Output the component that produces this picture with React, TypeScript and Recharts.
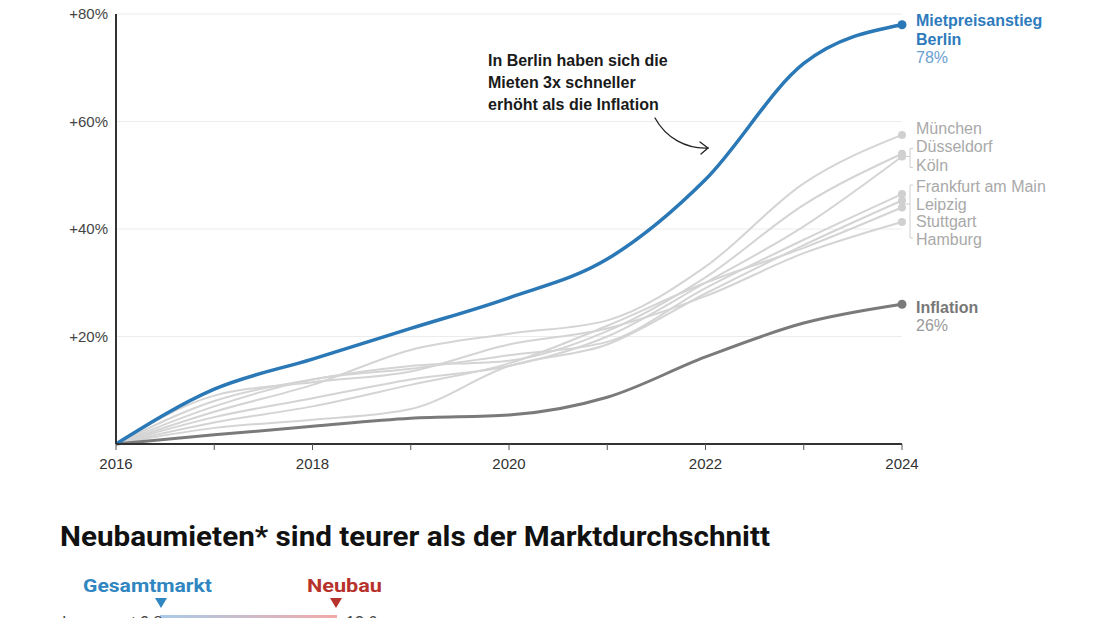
import React from 'react';
import { LineChart, Line, XAxis, YAxis, CartesianGrid } from 'recharts';

// Rent increase since 2016 (in %), by city, vs. inflation
const years = [2016, 2017, 2018, 2019, 2020, 2021, 2022, 2023, 2024];
const berlin = [0, 10.2, 15.8, 21.5, 27.2, 34.4, 49.2, 70.8, 78];
const inflation = [0, 1.7, 3.3, 4.8, 5.4, 8.7, 16.2, 22.5, 26];
const muenchen = [0, 6, 11, 17.5, 20.5, 23, 33, 48.5, 57.5];
const duesseldorf = [0, 8, 12, 14.5, 15.5, 21, 31, 44.5, 54];
const koeln = [0, 5, 8.5, 12, 14.5, 20, 30, 40.5, 53.5];
const frankfurt = [0, 7, 12, 14, 16.5, 19, 29, 38, 46.5];
const leipzig = [0, 3, 4.5, 6.5, 14.5, 18.5, 28, 37, 45.3];
const stuttgart = [0, 4, 7, 11, 15, 22, 30, 36.5, 44];
const hamburg = [0, 9, 11.5, 13.5, 18.5, 21.5, 27.5, 35.5, 41.3];
const yTicks = [20, 40, 60, 80];

const cityNames = ['München', 'Düsseldorf', 'Köln', 'Frankfurt am Main', 'Leipzig', 'Stuttgart', 'Hamburg'];
const cityValues = [muenchen, duesseldorf, koeln, frankfurt, leipzig, stuttgart, hamburg];

const data = years.map((year, i) => {
  const row: Record<string, number> = { year, berlin: berlin[i], inflation: inflation[i] };
  cityNames.forEach((name, c) => {
    row[name] = cityValues[c][i];
  });
  return row;
});

const BLUE = '#2a78b6';
const GREY_LINE = '#d4d4d4';
const GREY_TEXT = '#a9a9a9';
const INFL = '#7a7a7a';
const FONT = '"Liberation Sans", Arial, Helvetica, sans-serif';

// label vertical offsets (px) relative to each end point, so neighbouring names don't collide
const cityLabelDy: Record<string, number> = {
  'München': -7,
  'Düsseldorf': -7,
  'Köln': 9,
  'Frankfurt am Main': -8,
  'Leipzig': 3.5,
  'Stuttgart': 13.5,
  'Hamburg': 17,
};

type LabelLine = { text: string; dy: number; fill: string; weight?: number };

const endDot = (color: string, r: number, lines: LabelLine[], extra?: (cx: number, cy: number) => React.ReactNode) =>
  (props: any) => {
    const { cx, cy, index } = props;
    if (index !== years.length - 1 || cx == null || cy == null) return <g key={`d-${index}`} />;
    return (
      <g key={`end-${index}`}>
        {extra ? extra(cx, cy) : null}
        <circle cx={cx} cy={cy} r={r} fill={color} stroke="none" />
        {lines.map((l, k) => (
          <text
            key={k}
            x={cx + 14}
            y={cy + l.dy}
            dy="0.35em"
            fill={l.fill}
            fontSize={16}
            fontWeight={l.weight ?? 400}
            fontFamily={FONT}
          >
            {l.text}
          </text>
        ))}
      </g>
    );
  };

const bracketColor = '#cfcfcf';

const koelnBracket = (cx: number, cy: number) => (
  <g stroke={bracketColor} strokeWidth={1} fill="none">
    <path d={`M${cx + 11},${cy - 8} L${cx + 8},${cy - 8} L${cx + 8},${cy + 11} L${cx + 11},${cy + 11}`} />
    <path d={`M${cx},${cy} L${cx + 8},${cy}`} />
  </g>
);

const hamburgBracket = (cx: number, cy: number) => (
  <g stroke={bracketColor} strokeWidth={1} fill="none">
    <path d={`M${cx + 11},${cy - 37} L${cx + 8},${cy - 37} L${cx + 8},${cy + 16} L${cx + 11},${cy + 16}`} />
    <path d={`M${cx},${cy - 18} L${cx + 8},${cy - 18}`} />
  </g>
);

export default function App() {
  return (
    <div
      style={{
        position: 'absolute',
        left: 0,
        top: 0,
        width: 1100,
        height: 618,
        overflow: 'hidden',
        background: '#ffffff',
        fontFamily: FONT,
      }}
    >
      <LineChart
        width={1100}
        height={480}
        data={data}
        margin={{ top: 14, right: 198, bottom: 6, left: 66 }}
        style={{ fontFamily: FONT }}
      >
        <CartesianGrid vertical={false} stroke="#ececec" strokeWidth={1} />
        <XAxis
          dataKey="year"
          type="number"
          domain={[2016, 2024]}
          ticks={years}
          interval={0}
          height={30}
          tickFormatter={(v: number) => (v % 2 === 0 ? String(v) : '')}
          axisLine={{ stroke: '#333', strokeWidth: 2 }}
          tickLine={{ stroke: '#555', strokeWidth: 1 }}
          tickSize={6}
          tickMargin={8}
          tick={{ fill: '#333', fontSize: 15, fontFamily: FONT }}
        />
        <YAxis
          type="number"
          domain={[0, 80]}
          ticks={yTicks}
          width={50}
          tickFormatter={(v: number) => `+${v}%`}
          axisLine={{ stroke: '#333', strokeWidth: 2 }}
          tickLine={false}
          tick={{ fill: '#444', fontSize: 15, fontFamily: FONT }}
        />
        {cityNames.map((name) => (
          <Line
            key={name}
            dataKey={name}
            type="monotone"
            stroke={GREY_LINE}
            strokeWidth={2}
            isAnimationActive={false}
            dot={endDot('#d0d0d0', 4, [{ text: name, dy: cityLabelDy[name], fill: GREY_TEXT }],
              name === 'Köln' ? koelnBracket : name === 'Hamburg' ? hamburgBracket : undefined)}
            activeDot={false}
          />
        ))}
        <Line
          dataKey="inflation"
          type="monotone"
          stroke={INFL}
          strokeWidth={3}
          isAnimationActive={false}
          activeDot={false}
          dot={endDot(INFL, 4.5, [
            { text: 'Inflation', dy: 3, fill: '#777', weight: 700 },
            { text: `${inflation[inflation.length - 1]}%`, dy: 21, fill: '#9a9a9a' },
          ])}
        />
        <Line
          dataKey="berlin"
          type="monotone"
          stroke={BLUE}
          strokeWidth={3.5}
          isAnimationActive={false}
          activeDot={false}
          dot={endDot(BLUE, 4.5, [
            { text: 'Mietpreisanstieg', dy: -4, fill: '#2e7bbd', weight: 700 },
            { text: 'Berlin', dy: 15, fill: '#2e7bbd', weight: 700 },
            { text: `${berlin[berlin.length - 1]}%`, dy: 33, fill: '#6aa0cf' },
          ])}
        />
      </LineChart>

      {/* callout */}
      <svg width={1100} height={480} style={{ position: 'absolute', left: 0, top: 0, pointerEvents: 'none' }}>
        <g fontFamily={FONT} fontSize={16} fontWeight={700} fill="#1a1a1a">
          <text x={488} y={66}>In Berlin haben sich die</text>
          <text x={488} y={88}>Mieten 3x schneller</text>
          <text x={488} y={110}>erhöht als die Inflation</text>
        </g>
        <g stroke="#222" strokeWidth={1.3} fill="none" strokeLinecap="round">
          <path d="M655,118 C666,138 686,149 708,148" />
          <path d="M700,142 L708,148 L701,154" />
        </g>
      </svg>

      {/* next section header */}
      <svg width={1100} height={618} style={{ position: 'absolute', left: 0, top: 0, pointerEvents: 'none' }}>
        <defs>
          <linearGradient id="gapGrad" x1="0" x2="1" y1="0" y2="0">
            <stop offset="0%" stopColor="#a9cbe9" />
            <stop offset="100%" stopColor="#f2aaa8" />
          </linearGradient>
        </defs>
        <text
          x={60}
          y={546}
          fontFamily='"Roboto", "Noto Sans", sans-serif'
          fontSize={28}
          fontWeight={700}
          fill="#111"
          textLength={710}
          lengthAdjust="spacingAndGlyphs"
        >
          Neubaumieten* sind teurer als der Marktdurchschnitt
        </text>
        <text
          x={83}
          y={592}
          fontFamily='"Roboto", "Noto Sans", sans-serif'
          fontSize={19}
          fontWeight={700}
          fill="#2f86c0"
          textLength={129}
          lengthAdjust="spacingAndGlyphs"
        >
          Gesamtmarkt
        </text>
        <text
          x={307}
          y={592}
          fontFamily='"Roboto", "Noto Sans", sans-serif'
          fontSize={19}
          fontWeight={700}
          fill="#b8322c"
          textLength={75}
          lengthAdjust="spacingAndGlyphs"
        >
          Neubau
        </text>
        <path d="M155,598 L167,598 L161,608 Z" fill="#2f86c0" />
        <path d="M330,598 L342,598 L336,608 Z" fill="#b8322c" />
        <rect x={160} y={615} width={177} height={4} fill="url(#gapGrad)" />
        <text x={62} y={628} fontFamily={FONT} fontSize={16} fill="#444">Insgesamt  9,8</text>
        <text x={346} y={628} fontFamily={FONT} fontSize={16} fill="#444">13,6</text>
      </svg>
    </div>
  );
}
